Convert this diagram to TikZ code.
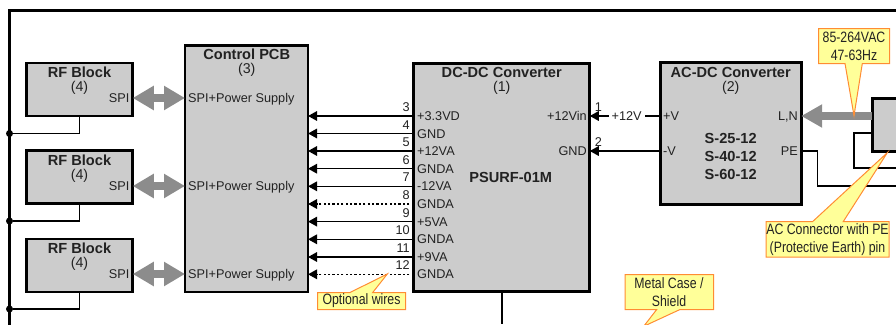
\documentclass[tikz,border=0pt]{standalone}
\usepackage{fontspec}
\setmainfont{Liberation Sans}
\newfontfamily\narrowfont[FakeStretch=0.82]{Liberation Sans}
\usepackage{xcolor}
\usetikzlibrary{arrows.meta}
\definecolor{blockgray}{HTML}{CCCCCC}
\definecolor{arrowgray}{HTML}{8C8C8C}
\definecolor{notefill}{HTML}{FFFF99}
\definecolor{noteedge}{HTML}{FF8C33}
\definecolor{inktext}{HTML}{222222}
\newcommand{\titlefont}{\fontsize{14.6}{16}\bfseries}
\newcommand{\refsfont}{\fontsize{14.2}{16}\selectfont}
\newcommand{\portfont}{\fontsize{12.7}{14}\selectfont}
\newcommand{\notefont}{\narrowfont\fontsize{15}{18}\selectfont}
\tikzset{
  block/.style={draw=black,fill=blockgray,line width=2.6pt,inner sep=0pt,outer sep=0pt},
  title/.style={font=\titlefont,text=inktext,inner sep=0pt},
  refs/.style={font=\refsfont,text=inktext,inner sep=0pt},
  port/.style={font=\portfont,text=inktext,inner sep=0pt,text height=9.1pt,text depth=0pt},
  frameline/.style={line width=2.6pt,line cap=rect},
  wire/.style={line width=1.5pt},
  pinwire/.style={line width=1.5pt,-{Triangle[length=9pt,width=9.5pt]}},
  optwire/.style={pinwire,dash pattern=on 2.2pt off 2.2pt},
  junction/.style={circle,fill=black,inner sep=0pt,minimum size=7pt},
  spiarrow/.style={draw=arrowgray,line width=8pt,
    {Triangle[length=21pt,width=23pt,fill=arrowgray]}-{Triangle[length=21pt,width=23pt,fill=arrowgray]}},
  acarrow/.style={draw=arrowgray,line width=7.5pt,
    -{Triangle[length=21pt,width=22pt,fill=arrowgray]}},
  notebox/.style={draw=noteedge,fill=notefill,line width=1pt,line join=miter},
  notetext/.style={font=\notefont,text=inktext,inner sep=0pt,align=center}
}
\begin{document}
\begin{tikzpicture}[x=1pt,y=-1pt]
  \useasboundingbox (0,0) rectangle (896,324);
  % metal case
  \coordinate (caseright) at (896,10.5);
  \coordinate (casecorner) at (9.5,10.5);
  \coordinate (casebottom) at (9.5,324);
  \draw[frameline] (caseright) -- (casecorner) -- (casebottom);
  % blocks
  \node[block,minimum width=123pt,minimum height=246.5pt] (pcb) at (246.5,168.75) {};
  \node[title] (pcbtitle) at (246.7,54.5) {Control PCB};
  \node[refs] (pcbrefs) at (246.7,70) {(3)};
  \node[block,minimum width=176pt,minimum height=228.5pt] (dcdc) at (501.75,177.5) {};
  \node[title] (dcdctitle) at (501.75,72.5) {DC-DC Converter};
  \node[refs] (dcdcrefs) at (501.75,88) {(1)};
  \node[title] (dcdcmodel) at (510.7,177.5) {PSURF-01M};
  \node[block,minimum width=141pt,minimum height=141.5pt] (acdc) at (730.7,133.5) {};
  \node[title] (acdctitle) at (730.7,72.5) {AC-DC Converter};
  \node[refs] (acdcrefs) at (730.7,88) {(2)};
  \node[title] (modela) at (730.7,138.5) {S-25-12};
  \node[title] (modelb) at (730.7,156.5) {S-40-12};
  \node[title] (modelc) at (730.7,174.5) {S-60-12};
  \node[block,line width=3pt,minimum width=34pt,minimum height=52.5pt] (acconn) at (889,124.75) {};
  % RF blocks and SPI links
  \foreach \n/\y/\sy/\jy in {a/89.5/98/133.5,b/177/186/221,c/265.5/274/309}{
    \node[block,minimum width=106.5pt,minimum height=53pt] (rf\n) at (79.5,\y) {};
    \node[title] (rftitle\n) at (79.5,\y-17) {RF Block};
    \node[refs] (rfrefs\n) at (79.5,\y-1.5) {(4)};
    \node[port,anchor=east] (spi\n) at (129.5,\sy) {SPI};
    \node[port,anchor=west] (pcbspi\n) at (188,\sy) {SPI+Power Supply};
    \draw[spiarrow] (spi\n -| rf\n.east) -- (pcbspi\n -| pcb.west);
    \node[junction] (gnd\n) at (9.5,\jy) {};
    \draw[wire] (rf\n.south) |- (gnd\n);
  }
  % power pins
  \foreach \num/\y/\lab/\sty in {3/116/+3.3VD/pinwire,4/133.5/GND/pinwire,5/151/+12VA/pinwire,
    6/168.7/GNDA/pinwire,7/186.3/-12VA/pinwire,8/204/GNDA/optwire,9/221.6/+5VA/pinwire,
    10/239.3/GNDA/pinwire,11/257/+9VA/pinwire,12/274.3/GNDA/optwire}{
    \node[port,anchor=west] (pin\num) at (417,\y) {\lab};
    \node[port,anchor=east] (num\num) at (410,\y-9) {\num};
    \draw[\sty] (pin\num -| dcdc.west) -- (pin\num -| pcb.east);
  }
  % DC input
  \node[port,anchor=east] (vin) at (587,116) {+12Vin};
  \node[port,anchor=east] (vgnd) at (587,151) {GND};
  \node[port,anchor=west] (vplus) at (663,116) {+V};
  \node[port,anchor=west] (vminus) at (663,151) {-V};
  \node[port,anchor=east] (acln) at (798,116) {L,N};
  \node[port,anchor=east] (acpe) at (798,151) {PE};
  \node[port] (numa) at (598.5,107) {1};
  \node[port] (numb) at (598.5,142) {2};
  \draw[pinwire] (vplus -| acdc.west) -- (vin -| dcdc.east);
  \draw[pinwire] (vminus -| acdc.west) -- (vgnd -| dcdc.east);
  \node[port,fill=white,inner xsep=3pt,inner ysep=1pt] (vbus) at (626.7,116) {+12V};
  % AC side
  \coordinate (connloop) at (871,133);
  \coordinate (loopend) at (896,168);
  \coordinate (peend) at (896,186);
  \draw[acarrow] (acconn.west |- acln) -- (acln -| acdc.east);
  \draw[wire,line width=2pt] (connloop) -- (854,133) |- (loopend);
  \draw[wire] (acpe -| acdc.east) -- (817.5,151) |- (peend);
  \draw[wire] (dcdc.south) -- (501.75,324) coordinate (dcdcstub);
  % notes
  \draw[notebox] (818.5,28.5) -- (889.5,28.5) -- (889.5,63.5) -- (862.3,63.5) -- (854,115.7)
    -- (845,63.5) -- (818.5,63.5) -- cycle;
  \node[notetext] (noteinput) at (854,46) {85-264VAC\\47-63Hz};
  \draw[notebox] (766,221.5) -- (812.7,221.5) -- (887.3,152.7) -- (843.3,221.5) -- (889,221.5)
    -- (889,257) -- (766,257) -- cycle;
  \node[notetext] (noteconn) at (827.5,239.5) {AC Connector with PE\\(Protective Earth) pin};
  \draw[notebox] (625,274.5) -- (713.5,274.5) -- (713.5,309.5) -- (680,309.5) -- (643.7,326.3)
    -- (656.7,309.5) -- (625,309.5) -- cycle;
  \node[notetext] (notecase) at (669,292) {Metal Case /\\Shield};
  \draw[notebox] (317.5,292.5) -- (350,292.5) -- (387.3,274) -- (372.7,292.5) -- (405.5,292.5)
    -- (405.5,309.5) -- (317.5,309.5) -- cycle;
  \node[notetext] (noteopt) at (361.5,301) {Optional wires};
\end{tikzpicture}
\end{document}
